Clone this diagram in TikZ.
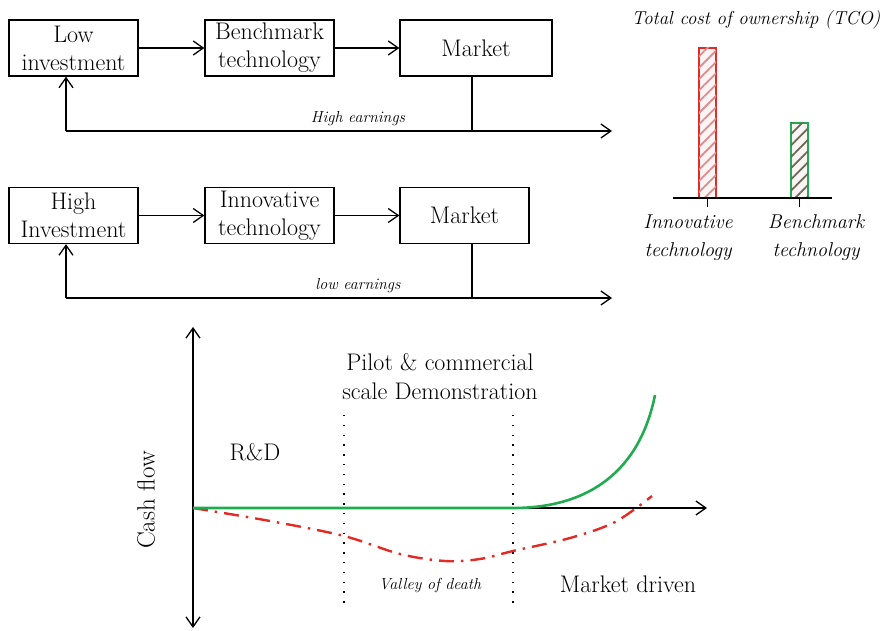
\documentclass[tikz,border=0pt]{standalone}
\usepackage{fontspec}
\usepackage{amssymb}
\usepackage{tikz}
\usetikzlibrary{shapes,arrows,arrows.meta,patterns.meta,positioning,fit}

\definecolor{cfRed}{RGB}{228,42,36}
\definecolor{cfGreen}{RGB}{30,172,78}
\definecolor{hatchRed}{RGB}{222,140,140}
\definecolor{hatchGreen}{RGB}{105,105,85}
\definecolor{barBack}{RGB}{250,244,244}

\begin{document}
\begin{tikzpicture}[x=1pt, y=-1pt, >={Straight Barb[length=10pt, width=14pt]}]
		\tikzstyle{Box}		= [rectangle, draw, line width=1.3pt, minimum width=129pt, minimum height=56pt, inner sep=0pt, align=center, font=\fontsize{24}{28}\selectfont]
		\tikzstyle{Link}	= [line width=1.3pt]
		\tikzstyle{Earn}	= [font=\itshape\fontsize{16}{18}\selectfont]
		\tikzstyle{Bar}		= [rectangle, line width=1.3pt, minimum width=17pt, inner sep=0pt, preaction={fill=barBack}]
		\tikzstyle{BarLabel}	= [align=center, font=\itshape\fontsize{20}{28}\selectfont]
		\tikzstyle{Phase}	= [align=center, font=\fontsize{24}{29}\selectfont]
		\tikzstyle{Divider}	= [line width=1.2pt, dash pattern=on 1.3pt off 8.5pt]
		\tikzstyle{GreenFlow}	= [line width=2.6pt, cfGreen]
		\tikzstyle{RedFlow}	= [line width=2.4pt, cfRed, dash pattern=on 15pt off 7pt on 2.5pt off 7pt]

		\useasboundingbox (0,0) rectangle (881,631);

		% low investment loop
		\node (low) at (73.5,48) [Box] {Low\\investment};
		\node (bench) at (269.5,48) [Box] {Benchmark\\technology};
		\node (mkt1) at (476,48) [Box, minimum width=152pt] {Market};
		\coordinate (back1) at (66,131);
		\coordinate (out1) at (612,131);
		\draw [->] (low) to (bench) [Link];
		\draw [->] (bench) to (mkt1) [Link];
		\draw (mkt1.south -| 472,0) to (472,131) [Link];
		\draw [->] (back1) to (out1) [Link];
		\draw [->] (back1) to (back1 |- low.south) [Link];
		\node (high) at (358,119) [Earn] {High earnings};

		% high investment loop
		\node (hinv) at (73.5,215.5) [Box] {High\\Investment};
		\node (innov) at (269.5,215.5) [Box] {Innovative\\technology};
		\node (mkt2) at (464.5,215.5) [Box] {Market};
		\coordinate (back2) at (66,298);
		\coordinate (out2) at (612,298);
		\draw [->] (hinv) to (innov) [Link];
		\draw [->] (innov) to (mkt2) [Link];
		\draw (mkt2.south -| 472,0) to (472,298) [Link];
		\draw [->] (back2) to (out2) [Link];
		\draw [->] (back2) to (back2 |- hinv.south) [Link];
		\node (lowe) at (358,286) [Earn] {low earnings};

		% TCO bars
		\node (tco) at (756,20) [font=\itshape\fontsize{18.8}{22}\selectfont] {Total cost of ownership (TCO)};
		\node (barI) at (707.5,123) [Bar, draw=cfRed, minimum height=150pt, postaction={pattern={Lines[angle=45, distance=8pt, line width=1.8pt]}, pattern color=hatchRed}] {};
		\node (barB) at (799.5,160.5) [Bar, draw=cfGreen, minimum height=75pt, postaction={pattern={Lines[angle=45, distance=8pt, line width=1.8pt]}, pattern color=hatchGreen}] {};
		\coordinate (base0) at (673,198);
		\coordinate (base1) at (832,198);
		\draw (base0) to (base1) [Link];
		\draw (barI.south) to ++(0,8) [Link];
		\draw (barB.south) to ++(0,8) [Link];
		\node (lblI) at (688,238) [BarLabel] {Innovative\\technology};
		\node (lblB) at (816,238) [BarLabel] {Benchmark\\technology};

		% cash flow chart
		\coordinate (orig) at (193,508);
		\coordinate (ytop) at (193,327);
		\coordinate (ybot) at (193,628);
		\coordinate (xend) at (707,508);
		\draw [<->] (ybot) to (ytop) [Link];
		\draw [->] (orig) to (xend) [Link];
		\draw (344,415) to (344,608) [Divider];
		\draw (513,415) to (513,608) [Divider];

		\draw [RedFlow] plot [smooth, tension=0.55] coordinates {(193,508) (270,521) (344,536) (400,554) (445,561) (480,559) (513,551) (570,538) (615,522) (652,496)};
		\draw [GreenFlow] (orig) -- (513,508) .. controls (590,508) and (640,470) .. (655,395);

		\node (cash) at (146,500) [Phase, rotate=90, font=\fontsize{25}{29}\selectfont] {Cash flow};
		\node (rd) at (255,452) [Phase] {R\&D};
		\node (pilot) at (440,377) [Phase] {Pilot \& commercial\\scale Demonstration};
		\node (valley) at (430,585) [Earn] {Valley of death};
		\node (mdrv) at (628,584) [Phase] {Market driven};
	\end{tikzpicture}
\end{document}
